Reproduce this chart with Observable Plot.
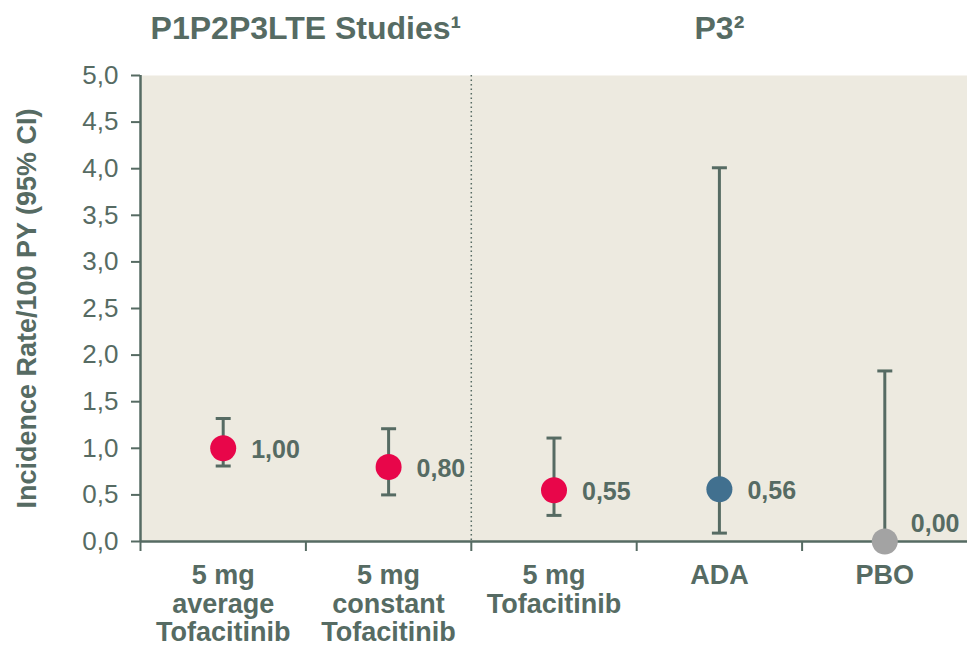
<!DOCTYPE html>
<html><head><meta charset="utf-8">
<script src="https://cdn.jsdelivr.net/npm/d3@7"></script>
<script src="https://cdn.jsdelivr.net/npm/@observablehq/plot@0.6"></script>
<style>html,body{margin:0;padding:0;background:#fff}</style>
</head><body><div id="chart"></div>
<script>
// ---- data ----
const categories = ["5 mg\naverage\nTofacitinib", "5 mg\nconstant\nTofacitinib", "5 mg\nTofacitinib", "ADA", "PBO"];
const rates = [1.00, 0.80, 0.55, 0.56, 0.00];
const ciLow = [0.81, 0.50, 0.28, 0.09, 0.00];
const ciHigh = [1.32, 1.21, 1.11, 4.01, 1.83];
const pointColors = ["#e8064a", "#e8064a", "#e8064a", "#41708f", "#a3a3a3"];
const groupTitles = ["P1P2P3LTE Studies¹", "P3²"];
const groupSizes = [2, 3];
const yTicks = [0, 0.5, 1, 1.5, 2, 2.5, 3, 3.5, 4, 4.5, 5];
const yTitle = "Incidence Rate/100 PY (95% CI)";

// ---- derived tables ----
const data = categories.map((c, i) => ({
  cat: c, pos: i + 0.5, rate: rates[i], lo: ciLow[i], hi: ciHigh[i], color: pointColors[i]
}));
let acc = 0;
const groups = groupTitles.map((t, i) => {
  const g = {title: t, start: acc, center: acc + groupSizes[i] / 2};
  acc += groupSizes[i];
  return g;
});
const dividers = groups.slice(1).map(g => g.start);
const boundaries = d3.range(0, categories.length);
const comma = v => d3.format(".1f")(v).replace(".", ",");
const comma2 = v => d3.format(".2f")(v).replace(".", ",");

const ink = "#566b63";
const capSymbol = {
  draw(ctx, size) {
    const r = Math.sqrt(size / Math.PI);
    ctx.moveTo(-r, 0); ctx.lineTo(r, 0);
  }
};
const font = "'Liberation Sans', Arial, sans-serif";

const chart = Plot.plot({
  width: 967, height: 648,
  marginLeft: 140, marginRight: 0, marginTop: 75, marginBottom: 107,
  x: {domain: [0, categories.length], axis: null},
  y: {domain: [0, 5], axis: null},
  color: {type: "identity"},
  style: {fontFamily: font, color: ink, background: "#fff", overflow: "visible"},
  marks: [
    Plot.frame({fill: "#edeae0", stroke: null}),
    Plot.ruleX(dividers, {stroke: ink, strokeWidth: 1.5, strokeDasharray: "1.5,3"}),
    Plot.axisY({ticks: yTicks, tickFormat: comma, tickSize: 9, tickPadding: 13,
      fontSize: 26, stroke: ink, strokeWidth: 2, label: null}),
    Plot.axisX({ticks: boundaries, tickFormat: () => "", tickSize: 10,
      stroke: ink, strokeWidth: 2, label: null}),
    Plot.ruleX([0], {stroke: ink, strokeWidth: 2.5}),
    Plot.ruleY([0], {stroke: ink, strokeWidth: 2.5}),
    Plot.ruleX(data, {x: "pos", y1: "lo", y2: "hi", stroke: ink, strokeWidth: 3}),
    Plot.dot(data, {x: "pos", y: "hi", symbol: capSymbol, r: 7.5, stroke: ink, strokeWidth: 3, fill: "none"}),
    Plot.dot(data.filter(d => d.lo > 0), {x: "pos", y: "lo", symbol: capSymbol, r: 7.5, stroke: ink, strokeWidth: 3, fill: "none"}),
    Plot.dot(data, {x: "pos", y: "rate", r: 13, fill: "color", stroke: null}),
    Plot.text(data.filter(d => d.rate > 0), {x: "pos", y: "rate", text: d => comma2(d.rate),
      textAnchor: "start", dx: 28, dy: 2, fontSize: 25, fontWeight: "bold", fill: ink}),
    Plot.text(data.filter(d => d.rate === 0), {x: "pos", y: "rate", text: d => comma2(d.rate),
      textAnchor: "start", dx: 26, dy: -18, fontSize: 25, fontWeight: "bold", fill: ink}),
    Plot.text(data, {x: "pos", y: () => 0, text: "cat", lineAnchor: "top", dy: 23,
      fontSize: 27, lineHeight: 1.04, fontWeight: "bold", fill: ink}),
    Plot.text(groups, {x: "center", y: () => 5, text: "title", lineAnchor: "bottom", dy: -37,
      fontSize: 32, fontWeight: "bold", fill: ink}),
    Plot.text([yTitle], {frameAnchor: "left", text: d => d, rotate: -90, dx: -113,
      textAnchor: "middle", fontSize: 27, fontWeight: "bold", fill: ink})
  ]
});
document.getElementById("chart").append(chart);
</script>
</body></html>
